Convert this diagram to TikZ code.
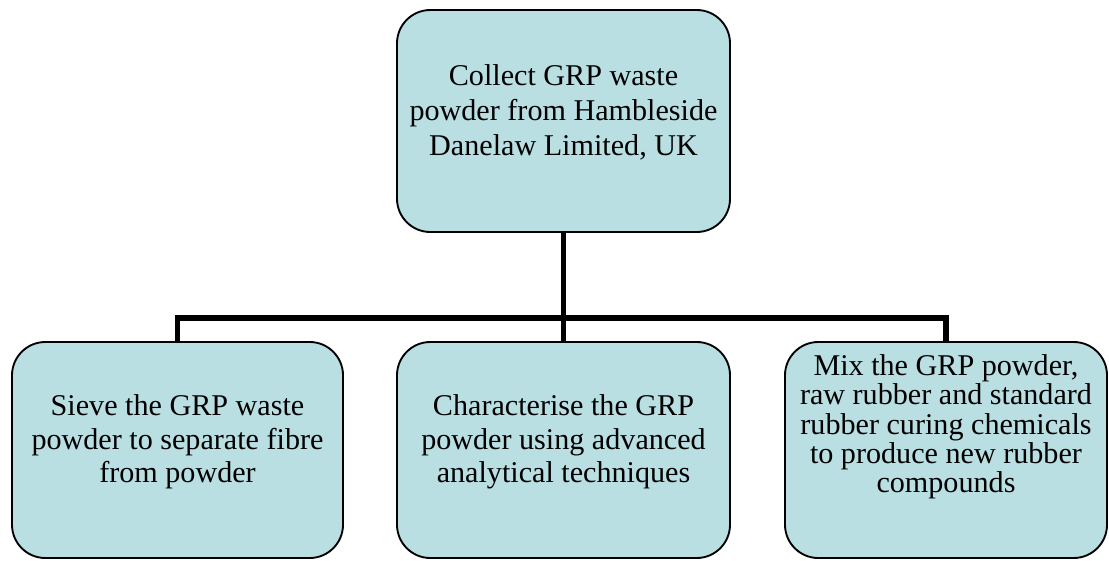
\documentclass[tikz,border=0pt]{standalone}
\usepackage{fontspec}
\setmainfont{Liberation Serif}
\usetikzlibrary{calc}
\definecolor{boxfill}{RGB}{185,223,227}
\tikzset{
  box/.style={draw=black, line width=1.4pt, fill=boxfill, rounded corners=25pt, inner sep=0pt},
  txt/.style={align=center, font=\fontsize{22.6}{25}\selectfont, inner sep=0pt},
  conn/.style={draw=black, line width=3.8pt, line join=miter}
}
\begin{document}
\begin{tikzpicture}[x=0.75pt, y=-0.75pt]
\useasboundingbox (0,0) rectangle (1109,560);
\node[box, minimum width=249.75pt, minimum height=166.5pt] (top) at (563.5,121) {};
\node[box, minimum width=248.25pt, minimum height=162pt] (left) at (177.5,450) {};
\node[box, minimum width=249.75pt, minimum height=162pt] (mid) at (563.5,450) {};
\node[box, minimum width=241.5pt, minimum height=162pt] (right) at (946,450) {};
\coordinate (bus) at (563.5,318);
\draw[conn] (top.south) -- (bus);
\draw[conn] (left.north) |- (bus) -| (right.north);
\draw[conn] (bus) -- (mid.north);
\node[txt, font=\fontsize{22.6}{26.25}\selectfont] (ttop) at (563.5,112) {Collect GRP waste\\powder from Hambleside\\Danelaw Limited, UK};
\node[txt] (tleft) at (177.5,442) {Sieve the GRP waste\\powder to separate fibre\\from powder};
\node[txt] (tmid) at (563.5,442) {Characterise the GRP\\powder using advanced\\analytical techniques};
\node[txt, font=\fontsize{22.6}{22}\selectfont] (tright) at (946,427) {Mix the GRP powder,\\raw rubber and standard\\rubber curing chemicals\\to produce new rubber\\compounds};
\end{tikzpicture}
\end{document}
